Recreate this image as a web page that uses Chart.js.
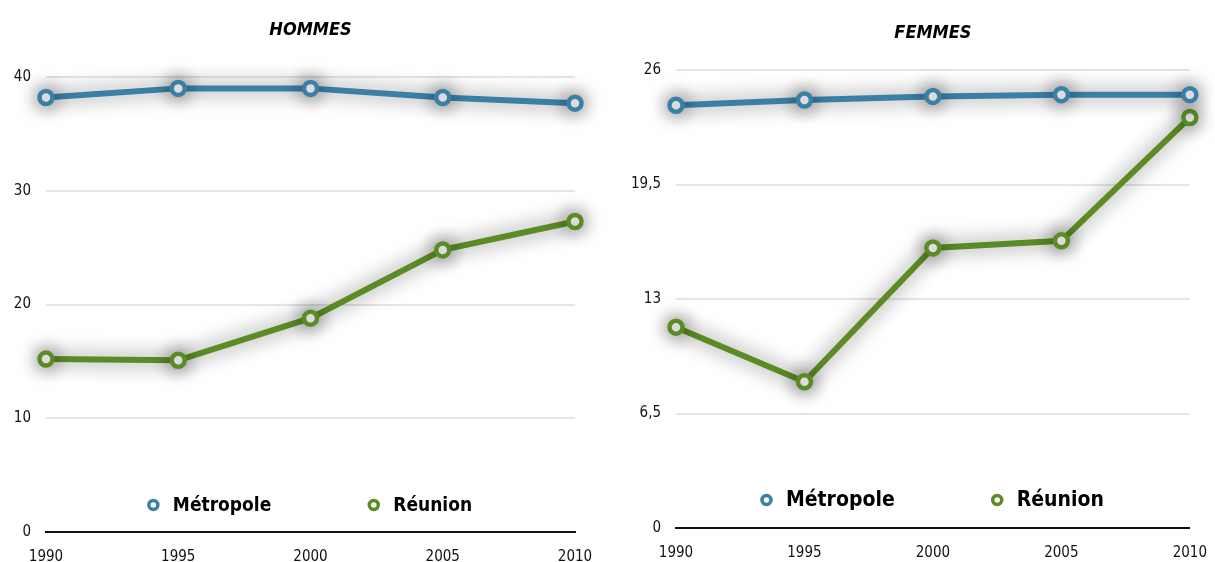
<!DOCTYPE html>
<html>
<head>
<meta charset="utf-8">
<title>Hommes / Femmes</title>
<script src="https://cdn.jsdelivr.net/npm/chart.js"></script>
<style>
  body { margin: 0; background: #fff; }
  #wrap { position: relative; width: 1215px; height: 562px; }
  .box { position: absolute; top: 0; height: 562px; }
  #left { left: 0; width: 610px; }
  #right { left: 610px; width: 605px; }
</style>
</head>
<body>
<div id="wrap">
  <div class="box" id="left"><canvas id="hommes"></canvas></div>
  <div class="box" id="right"><canvas id="femmes"></canvas></div>
</div>
<script>
// data
const years = ['1990', '1995', '2000', '2005', '2010'];
const seriesNames = ['Métropole', 'Réunion'];
const hommesMetropole = [38.2, 39.0, 39.0, 38.2, 37.7];
const hommesReunion = [15.2, 15.1, 18.8, 24.8, 27.3];
const femmesMetropole = [24.0, 24.3, 24.5, 24.6, 24.6];
const femmesReunion = [11.4, 8.3, 15.9, 16.3, 23.3];
const hommesTicks = { max: 40, step: 10 };
const femmesTicks = { max: 26, step: 6.5 };

const FONT = "'DejaVu Sans Condensed', 'Liberation Sans', sans-serif";
const blue = '#3a80a6';
const green = '#5a8b24';

// soft grey shadow around lines and points
const shadowPlugin = {
  id: 'shadow',
  beforeDatasetsDraw(chart) {
    const ctx = chart.ctx;
    ctx.save();
    ctx.shadowColor = 'rgba(0,0,0,0.6)';
    ctx.shadowBlur = 20;
  },
  afterDatasetsDraw(chart) {
    chart.ctx.restore();
  }
};

// title above the plot and legend inside it, both centred on the chart area
const headerLegend = {
  id: 'headerLegend',
  afterDraw(chart, args, opts) {
    const { ctx, chartArea } = chart;
    const cx = (chartArea.left + chartArea.right) / 2;
    ctx.save();
    ctx.fillStyle = '#000';
    ctx.textBaseline = 'middle';
    ctx.textAlign = 'center';
    ctx.font = 'italic bold ' + opts.titleSize + 'px ' + FONT;
    ctx.fillText(opts.title, cx, opts.titleY);

    ctx.font = 'bold ' + opts.size + 'px ' + FONT;
    ctx.textAlign = 'left';
    const items = chart.data.datasets.map(ds => ({
      label: ds.label, color: ds.borderColor, w: ctx.measureText(ds.label).width
    }));
    const markGap = opts.markGap, itemGap = opts.itemGap, r = opts.markR;
    let total = 0;
    items.forEach((it, i) => { total += r * 2 + markGap + it.w + (i ? itemGap : 0); });
    let x = cx - total / 2;
    const y = chartArea.bottom - opts.fromBottom;
    items.forEach(it => {
      ctx.beginPath();
      ctx.arc(x + r, y, r, 0, Math.PI * 2);
      ctx.fillStyle = '#fff';
      ctx.fill();
      ctx.lineWidth = 3.5;
      ctx.strokeStyle = it.color;
      ctx.stroke();
      x += r * 2 + markGap;
      ctx.fillStyle = '#000';
      ctx.fillText(it.label, x, y + 1);
      x += it.w + itemGap;
    });
    ctx.restore();
  }
};

function makeChart(id, title, metro, reunion, ticks, lay) {
  return new Chart(document.getElementById(id), {
    type: 'line',
    data: {
      labels: years,
      datasets: [
        { label: seriesNames[0], data: metro, borderColor: blue },
        { label: seriesNames[1], data: reunion, borderColor: green }
      ].map(d => Object.assign(d, {
        borderWidth: 6,
        pointRadius: 6.5,
        pointBorderWidth: 4.5,
        pointBackgroundColor: '#fff',
        pointBorderColor: d.borderColor,
        tension: 0,
        clip: false
      }))
    },
    options: {
      responsive: true,
      maintainAspectRatio: false,
      animation: false,
      layout: { padding: { top: lay.top, right: lay.right, left: 0, bottom: 0 } },
      plugins: {
        legend: { display: false },
        tooltip: { enabled: false },
        headerLegend: {
          title: title, titleY: lay.titleY, titleSize: 18,
          size: lay.legendSize, fromBottom: lay.legendBottom,
          markR: 4.5, markGap: 15, itemGap: 98
        }
      },
      scales: {
        x: {
          offset: false,
          grid: { display: false },
          border: { display: true, color: '#111', width: 2 },
          ticks: { font: { family: FONT, size: 15 }, color: '#111', padding: 8, maxRotation: 0 },
          afterFit: s => { s.height = lay.xh; }
        },
        y: {
          min: 0,
          max: ticks.max,
          border: { display: false },
          grid: {
            drawTicks: false,
            lineWidth: 2,
            color: c => (c.tick && c.tick.value === 0) ? '#111' : '#e6e6e6'
          },
          ticks: {
            stepSize: ticks.step,
            font: { family: FONT, size: 15 },
            color: '#111',
            padding: 15,
            callback: v => String(v).replace('.', ',')
          },
          afterFit: s => { s.width = lay.yw; }
        }
      }
    },
    plugins: [shadowPlugin, headerLegend]
  });
}

makeChart('hommes', 'HOMMES', hommesMetropole, hommesReunion, hommesTicks,
  { top: 77, right: 35, yw: 46, xh: 30, titleY: 30, legendSize: 19, legendBottom: 27 });
makeChart('femmes', 'FEMMES', femmesMetropole, femmesReunion, femmesTicks,
  { top: 70, right: 23, yw: 66, xh: 34, titleY: 33, legendSize: 21, legendBottom: 28 });
</script>
</body>
</html>
